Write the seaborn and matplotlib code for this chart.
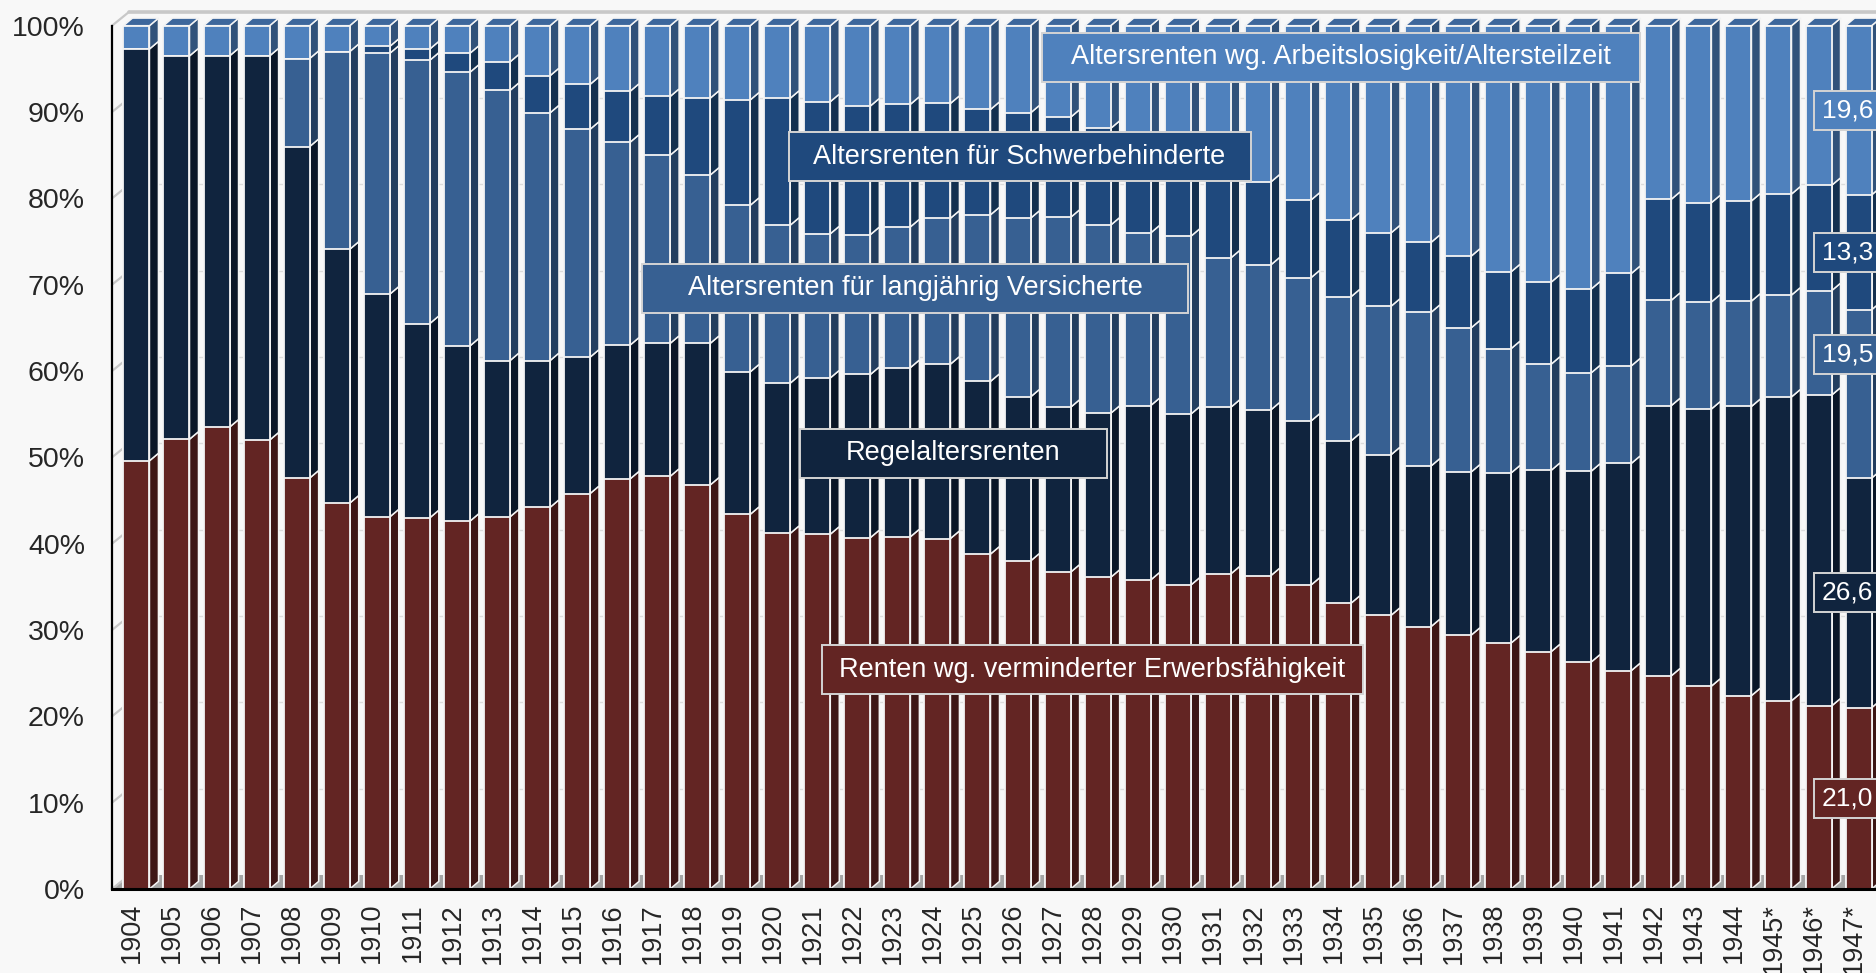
import numpy as np
import pandas as pd
import matplotlib
matplotlib.use("Agg")
import matplotlib.pyplot as plt
from matplotlib.patches import Polygon, Rectangle
import seaborn as sns

# ---------------- data ----------------
years = [str(y) for y in range(1904, 1945)] + ["1945*", "1946*", "1947*"]

erwerb = [49.6, 52.1, 53.5, 52.0, 47.6, 44.7, 43.1, 43.0, 42.6, 43.1, 44.2, 45.8, 47.5, 47.8, 46.8,
          43.4, 41.2, 41.1, 40.7, 40.8, 40.6, 38.8, 38.0, 36.7, 36.1, 35.8, 35.2, 36.5, 36.3, 35.2,
          33.1, 31.7, 30.4, 29.4, 28.5, 27.5, 26.3, 25.3, 24.7, 23.5, 22.4, 21.8, 21.2, 21.0]
regel = [47.7, 44.4, 43.0, 44.5, 38.4, 29.4, 25.8, 22.5, 20.3, 18.1, 17.0, 15.8, 15.5, 15.4, 16.4,
         16.5, 17.4, 18.1, 18.9, 19.6, 20.2, 20.0, 19.0, 19.1, 19.0, 20.2, 19.8, 19.3, 19.2, 19.0,
         18.8, 18.6, 18.6, 18.9, 19.7, 21.0, 22.1, 24.0, 31.3, 32.1, 33.5, 35.2, 36.0, 26.6]
langj = [0.0, 0.0, 0.0, 0.0, 10.2, 22.9, 27.9, 30.5, 31.7, 31.3, 28.7, 26.4, 23.5, 21.8, 19.5,
         19.3, 18.3, 16.7, 16.2, 16.3, 16.9, 19.3, 20.7, 22.0, 21.8, 20.0, 20.6, 17.3, 16.8, 16.6,
         16.7, 17.2, 17.8, 16.7, 14.4, 12.3, 11.4, 11.3, 12.2, 12.4, 12.2, 11.8, 12.1, 19.5]
schwer = [0.0, 0.0, 0.0, 0.0, 0.0, 0.0, 0.8, 1.3, 2.2, 3.3, 4.3, 5.2, 5.9, 6.8, 8.9,
          12.2, 14.7, 15.3, 14.9, 14.2, 13.3, 12.2, 12.2, 11.6, 11.2, 10.5, 9.9, 10.9, 9.6, 9.0,
          8.9, 8.5, 8.1, 8.3, 8.9, 9.5, 9.7, 10.7, 11.7, 11.5, 11.6, 11.7, 12.2, 13.3]
arbeit = [2.7, 3.5, 3.5, 3.5, 3.8, 3.0, 2.4, 2.7, 3.2, 4.2, 5.8, 6.8, 7.6, 8.2, 8.4,
          8.6, 8.4, 8.8, 9.3, 9.1, 9.0, 9.7, 10.1, 10.6, 11.9, 13.5, 14.5, 16.0, 18.1, 20.2,
          22.5, 24.0, 25.1, 26.7, 28.5, 29.7, 30.5, 28.7, 20.1, 20.5, 20.3, 19.5, 18.5, 19.6]

series_names = ["Renten wg. verminderter Erwerbsfähigkeit",
                "Regelaltersrenten",
                "Altersrenten für langjährig Versicherte",
                "Altersrenten für Schwerbehinderte",
                "Altersrenten wg. Arbeitslosigkeit/Altersteilzeit"]
last_labels = ["21,0", "26,6", "19,5", "13,3", "19,6"]
y_ticks = [0, 10, 20, 30, 40, 50, 60, 70, 80, 90, 100]

# ---------------- style ----------------
BG = "#f8f8f8"
front = ["#632523", "#10243e", "#376092", "#1f497d", "#4f81bd"]
side = ["#3d1615", "#0a1627", "#233e5f", "#14304f", "#31527a"]
top_col = "#3d679c"
edge = "#f4f4f4"

# label boxes: (center x [category units], center y [%], box width px)
box_pos = [(23.87, 25.4, 541), (20.40, 50.5, 307), (19.45, 69.6, 546),
           (22.05, 84.8, 462), (30.08, 96.35, 598)]
last_dy = [0, 0, 4.6, 0, 0]

sns.set_style("white")
plt.rcParams["font.family"] = ["Liberation Sans", "DejaVu Sans"]

W, H = 1876, 973
PXC = 40.05            # px per category
PXY = 8.633            # px per percent
x_lo, x_hi = -0.61, 44.3
left_px, bottom_px, top_px = 112.0, 889.0, 25.7

fig = plt.figure(figsize=(W / 100, H / 100), dpi=100, facecolor=BG)
ax = fig.add_axes([left_px / W, (H - bottom_px) / H,
                   (x_hi - x_lo) * PXC / W, (bottom_px - top_px) / H])
ax.set_facecolor(BG)

# cumulative stacks
stack = np.array([erwerb, regel, langj, schwer, arbeit])
cum = np.cumsum(stack, axis=0)
bottoms = cum - stack

BW = 0.65               # front face width
ddx, ddy = 9 / PXC, 7.6 / PXY       # bar depth
wdx, wdy = 17.3 / PXC, 14 / PXY     # wall depth

# back wall, floor, grid
ax.add_patch(Polygon([(x_lo, 0), (x_hi + 1, 0), (x_hi + 1 + wdx, wdy), (x_lo + wdx, wdy)],
                     closed=True, facecolor="#a6a6a6", edgecolor="none", zorder=0.5))
for v in y_ticks[1:]:
    ax.plot([x_lo + wdx, x_hi + 1], [v + wdy, v + wdy], color="#dcdcdc", lw=1.0, zorder=0.6,
            clip_on=False)
for v in y_ticks:
    ax.plot([x_lo, x_lo + wdx], [v, v + wdy], color="#c8c8c8", lw=1.6, zorder=0.7, clip_on=False)
ax.plot([x_lo + wdx, x_hi + 1], [100 + wdy, 100 + wdy], color="#c8c8c8", lw=2.6, zorder=0.7,
        clip_on=False)

# front faces (seaborn, drawn as overlapping cumulative bars)
for k in range(4, -1, -1):
    sns.barplot(x=years, y=cum[k], order=years, color=front[k], saturation=1, width=BW,
                edgecolor=edge, linewidth=1.3, errorbar=None, ax=ax, zorder=3)

# side and top faces
for i in range(len(years)):
    x1 = i + BW / 2
    x0 = i - BW / 2
    for k in range(5):
        b, t = bottoms[k, i], cum[k, i]
        if t - b <= 0:
            continue
        ax.add_patch(Polygon([(x1, b), (x1 + ddx, b + ddy), (x1 + ddx, t + ddy), (x1, t)],
                             closed=True, facecolor=side[k], edgecolor=edge, lw=1.1,
                             zorder=2.9, clip_on=False))
    t = cum[4, i]
    ax.add_patch(Polygon([(x0, t), (x1, t), (x1 + ddx, t + ddy), (x0 + ddx, t + ddy)],
                         closed=True, facecolor=top_col, edgecolor=edge, lw=1.1,
                         zorder=2.9, clip_on=False))

# series label boxes
bh = 49 / PXY
for k in range(5):
    cx, cy, wpx = box_pos[k]
    bw = wpx / PXC
    ax.add_patch(Rectangle((cx - bw / 2, cy - bh / 2), bw, bh, facecolor=front[k],
                           edgecolor="#d4d4d4", lw=1.4, zorder=5, clip_on=False))
    ax.text(cx, cy, series_names[k], color="white", fontsize=19.5, ha="center",
            va="center", zorder=6)

# value labels of the last bar (kept inside the picture)
li = len(years) - 1
lx = li - 11 / PXC
lh = 39 / PXY
lw_ = 68 / PXC
for k in range(5):
    cy = (bottoms[k, li] + cum[k, li]) / 2 + last_dy[k]
    ax.add_patch(Rectangle((lx - lw_ / 2, cy - lh / 2), lw_, lh, facecolor=front[k],
                           edgecolor="#d4d4d4", lw=1.4, zorder=5))
    ax.text(lx, cy, last_labels[k], color="white", fontsize=19, ha="center", va="center",
            zorder=6)

# axes
ax.set_xlim(x_lo, x_hi)
ax.set_ylim(0, 100)
ax.set_yticks(y_ticks)
ax.set_yticklabels([f"{v}%" for v in y_ticks], fontsize=20.5)
ax.set_xticks(np.arange(len(years)) - 0.11)
ax.set_xticklabels(years, rotation=90, fontsize=19.5, va="top", ha="center")
ax.set_xticks(np.arange(len(years) + 1) - 0.61, minor=True)
ax.tick_params(axis="x", which="major", length=0, pad=10)
ax.tick_params(axis="x", which="minor", length=6, width=1.5, color="black", direction="out")
ax.tick_params(axis="y", length=6.5, width=1.5, color="black", direction="out", pad=13)
ax.set_xlabel("")
ax.set_ylabel("")
for s in ["top", "right"]:
    ax.spines[s].set_visible(False)
ax.spines["left"].set_color("black")
ax.spines["left"].set_linewidth(1.6)
ax.spines["bottom"].set_color("black")
ax.spines["bottom"].set_linewidth(2.2)
ax.spines["left"].set_zorder(7)
ax.spines["bottom"].set_zorder(7)
ax.grid(False)

fig.savefig("out.png", dpi=100, facecolor=BG)
